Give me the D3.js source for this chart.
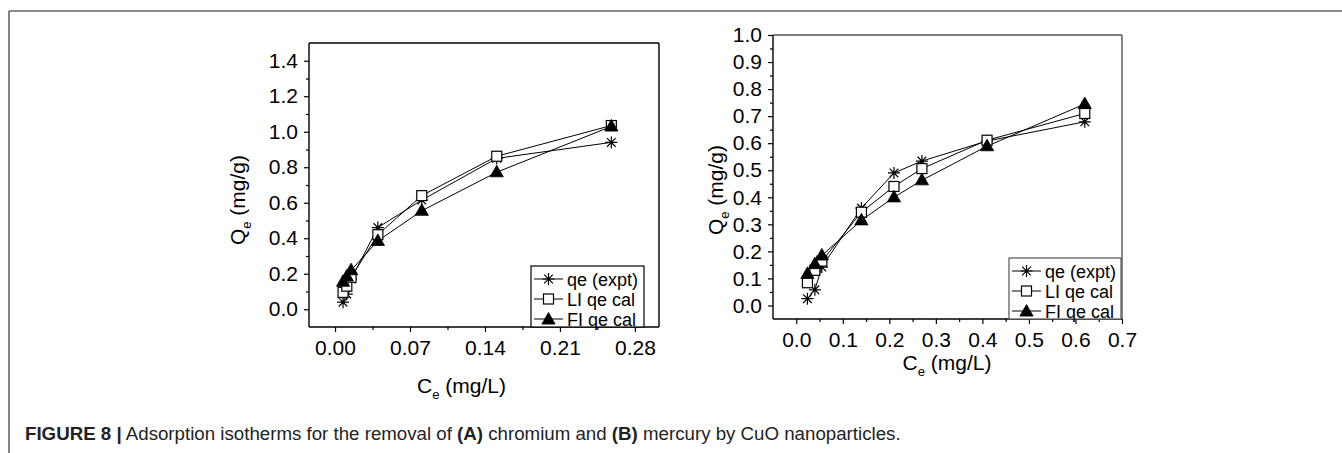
<!DOCTYPE html>
<html><head><meta charset="utf-8">
<script src="https://cdn.jsdelivr.net/npm/d3@7"></script>
<style>
body{margin:0;background:#fff}
svg{display:block}
text{font-family:"Liberation Sans",Arial,Helvetica,sans-serif}
</style>
</head><body>
<svg id="c" width="1342" height="453"></svg>
<script>
// ---------- Panel A: chromium ----------
const ceA      = [0.0075, 0.011, 0.015, 0.040, 0.081, 0.151, 0.258];
const qeExptA  = [0.040, 0.085, 0.170, 0.460, 0.615, 0.850, 0.940];
const liA      = [0.095, 0.130, 0.180, 0.420, 0.640, 0.862, 1.035];
const fiA      = [0.155, 0.185, 0.220, 0.385, 0.555, 0.772, 1.030];
const xTicksA  = [0, 0.07, 0.14, 0.21, 0.28];
const xMinorA  = [0.035, 0.105, 0.175, 0.245];
const yTicksA  = [0, 0.2, 0.4, 0.6, 0.8, 1.0, 1.2, 1.4];
const yMinorA  = [0.1, 0.3, 0.5, 0.7, 0.9, 1.1, 1.3];

// ---------- Panel B: mercury ----------
const ceB      = [0.024, 0.040, 0.055, 0.140, 0.210, 0.270, 0.410, 0.620];
const qeExptB  = [0.025, 0.058, 0.142, 0.360, 0.490, 0.534, 0.608, 0.679];
const liB      = [0.084, 0.130, 0.164, 0.345, 0.440, 0.506, 0.611, 0.710];
const fiB      = [0.117, 0.153, 0.185, 0.315, 0.400, 0.463, 0.589, 0.745];
const xTicksB  = [0, 0.1, 0.2, 0.3, 0.4, 0.5, 0.6, 0.7];
const xMinorB  = [0.05, 0.15, 0.25, 0.35, 0.45, 0.55, 0.65];
const yTicksB  = [0, 0.1, 0.2, 0.3, 0.4, 0.5, 0.6, 0.7, 0.8, 0.9, 1.0];
const yMinorB  = [0.05, 0.15, 0.25, 0.35, 0.45, 0.55, 0.65, 0.75, 0.85, 0.95];

const seriesNames = ["qe (expt)", "LI qe cal", "FI qe cal"];
const caption = ["FIGURE 8 |", " Adsorption isotherms for the removal of ", "(A)", " chromium and ", "(B)", " mercury by CuO nanoparticles."];

const svg = d3.select("#c");

// outer page frame
svg.append("line").attr("x1",9).attr("x2",1342).attr("y1",11).attr("y2",11).attr("stroke","#666").attr("stroke-width",1.6);
svg.append("line").attr("x1",9).attr("x2",9).attr("y1",11).attr("y2",453).attr("stroke","#666").attr("stroke-width",1.6);

function starPath(r){
  const d = r*0.72;
  return `M${-r},0L${r},0M0,${-r}L0,${r}M${-d},${-d}L${d},${d}M${-d},${d}L${d},${-d}`;
}
function drawMarker(g, type, x, y){
  if(type===0){
    g.append("path").attr("d", starPath(6)).attr("transform",`translate(${x},${y})`)
      .attr("stroke","#000").attr("stroke-width",1.2).attr("fill","none");
  } else if(type===1){
    g.append("rect").attr("x",x-5).attr("y",y-5).attr("width",10).attr("height",10)
      .attr("fill","#fff").attr("stroke","#000").attr("stroke-width",1.2);
  } else {
    g.append("path").attr("d","M0,-7L6.6,4.6L-6.6,4.6Z").attr("transform",`translate(${x},${y})`)
      .attr("fill","#000").attr("stroke","#000").attr("stroke-width",0.8);
  }
}

function panel(cfg){
  const g = svg.append("g");
  const x = d3.scaleLinear().domain(cfg.xDomain).range([cfg.x0, cfg.x1]);
  const y = d3.scaleLinear().domain(cfg.yDomain).range([cfg.y1, cfg.y0]);

  const ax = g.append("g").attr("transform",`translate(0,${cfg.y1})`)
    .call(d3.axisBottom(x).tickValues(cfg.xTicks).tickSize(5).tickPadding(8).tickFormat(d3.format(cfg.xFmt)));
  const axm = g.append("g").attr("transform",`translate(0,${cfg.y1})`)
    .call(d3.axisBottom(x).tickValues(cfg.xMinor).tickSize(3).tickFormat(""));
  const ay = g.append("g").attr("transform",`translate(${cfg.x0},0)`)
    .call(d3.axisLeft(y).tickValues(cfg.yTicks).tickSize(5).tickPadding(6).tickFormat(d3.format(".1f")));
  const aym = g.append("g").attr("transform",`translate(${cfg.x0},0)`)
    .call(d3.axisLeft(y).tickValues(cfg.yMinor).tickSize(3).tickFormat(""));
  [ax,axm,ay,aym].forEach(a=>{
    a.select(".domain").remove();
    a.selectAll("line").attr("stroke","#000").attr("stroke-width",1.2);
    a.selectAll("text").attr("font-size",21).attr("fill","#000").attr("font-family",'"Liberation Sans",Arial,sans-serif');
  });

  g.append("line").attr("x1",cfg.x0).attr("x2",cfg.x1).attr("y1",cfg.y1).attr("y2",cfg.y1).attr("stroke","#000").attr("stroke-width",1.4);
  g.append("line").attr("x1",cfg.x0).attr("x2",cfg.x0).attr("y1",cfg.y0).attr("y2",cfg.y1).attr("stroke","#000").attr("stroke-width",1.4);
  g.append("line").attr("x1",cfg.x0).attr("x2",cfg.x1).attr("y1",cfg.y0).attr("y2",cfg.y0).attr("stroke",cfg.frameColor).attr("stroke-width",1.4);
  g.append("line").attr("x1",cfg.x1).attr("x2",cfg.x1).attr("y1",cfg.y0).attr("y2",cfg.y1).attr("stroke",cfg.frameColor).attr("stroke-width",1.4);

  const line = d3.line().x(d=>x(d[0])).y(d=>y(d[1]));
  cfg.series.forEach(s=>{
    g.append("path").attr("d", line(cfg.xs.map((v,i)=>[v,s[i]])))
      .attr("fill","none").attr("stroke","#000").attr("stroke-width",1);
  });
  cfg.series.forEach((s,k)=>{
    cfg.xs.forEach((v,i)=>drawMarker(g,k,x(v),y(s[i])));
  });

  const L = cfg.legend;
  g.append("rect").attr("x",L.x).attr("y",L.y).attr("width",L.w).attr("height",L.h)
    .attr("fill","#fff").attr("stroke",cfg.frameColor).attr("stroke-width",1.2);
  seriesNames.forEach((n,k)=>{
    const cy = L.y + 13 + k*20;
    g.append("line").attr("x1",L.x+3).attr("x2",L.x+32).attr("y1",cy).attr("y2",cy).attr("stroke","#000").attr("stroke-width",1);
    drawMarker(g,k,L.x+17.5,cy + (k===2?0.5:0));
    g.append("text").attr("x",L.x+36).attr("y",cy+6.5).attr("font-size",18).attr("fill","#000").text(n);
  });

  const xt = g.append("text").attr("x",cfg.xLabel[0]).attr("y",cfg.xLabel[1]).attr("font-size",21)
    .attr("text-anchor",cfg.xLabel[2]).attr("fill","#000");
  xt.append("tspan").text("C");
  xt.append("tspan").attr("font-size",13).attr("dy",6).text("e");
  xt.append("tspan").attr("dy",-6).text(" (mg/L)");

  const yt = g.append("text").attr("transform",`translate(${cfg.yLabel[0]},${cfg.yLabel[1]}) rotate(-90)`)
    .attr("font-size",21).attr("text-anchor","middle").attr("fill","#000");
  yt.append("tspan").text("Q");
  yt.append("tspan").attr("font-size",13).attr("dy",6).text("e");
  yt.append("tspan").attr("dy",-6).text(" (mg/g)");
}

panel({
  x0:309, x1:659, y0:43, y1:327,
  xDomain:[-0.0243, 0.3025], yDomain:[-0.1, 1.5],
  xTicks:xTicksA, xMinor:xMinorA, yTicks:yTicksA, yMinor:yMinorA, xFmt:".2f",
  xs:ceA, series:[qeExptA, liA, fiA],
  frameColor:"#000",
  legend:{x:531, y:266, w:113, h:61},
  xLabel:[417, 393, "start"],
  yLabel:[245, 200]
});

panel({
  x0:773, x1:1122, y0:35, y1:319,
  xDomain:[-0.05, 0.7], yDomain:[-0.05, 1.0],
  xTicks:xTicksB, xMinor:xMinorB, yTicks:yTicksB, yMinor:yMinorB, xFmt:".1f",
  xs:ceB, series:[qeExptB, liB, fiB],
  frameColor:"#555",
  legend:{x:1009, y:258, w:112, h:61},
  xLabel:[947, 370, "middle"],
  yLabel:[723, 190]
});

const cap = svg.append("text").attr("x",25).attr("y",440).attr("font-size",18.7).attr("fill","#222");
caption.forEach((t,i)=>{
  cap.append("tspan").attr("font-weight", (i===0||i===2||i===4) ? "bold" : "normal").text(t);
});
</script>
</body></html>
